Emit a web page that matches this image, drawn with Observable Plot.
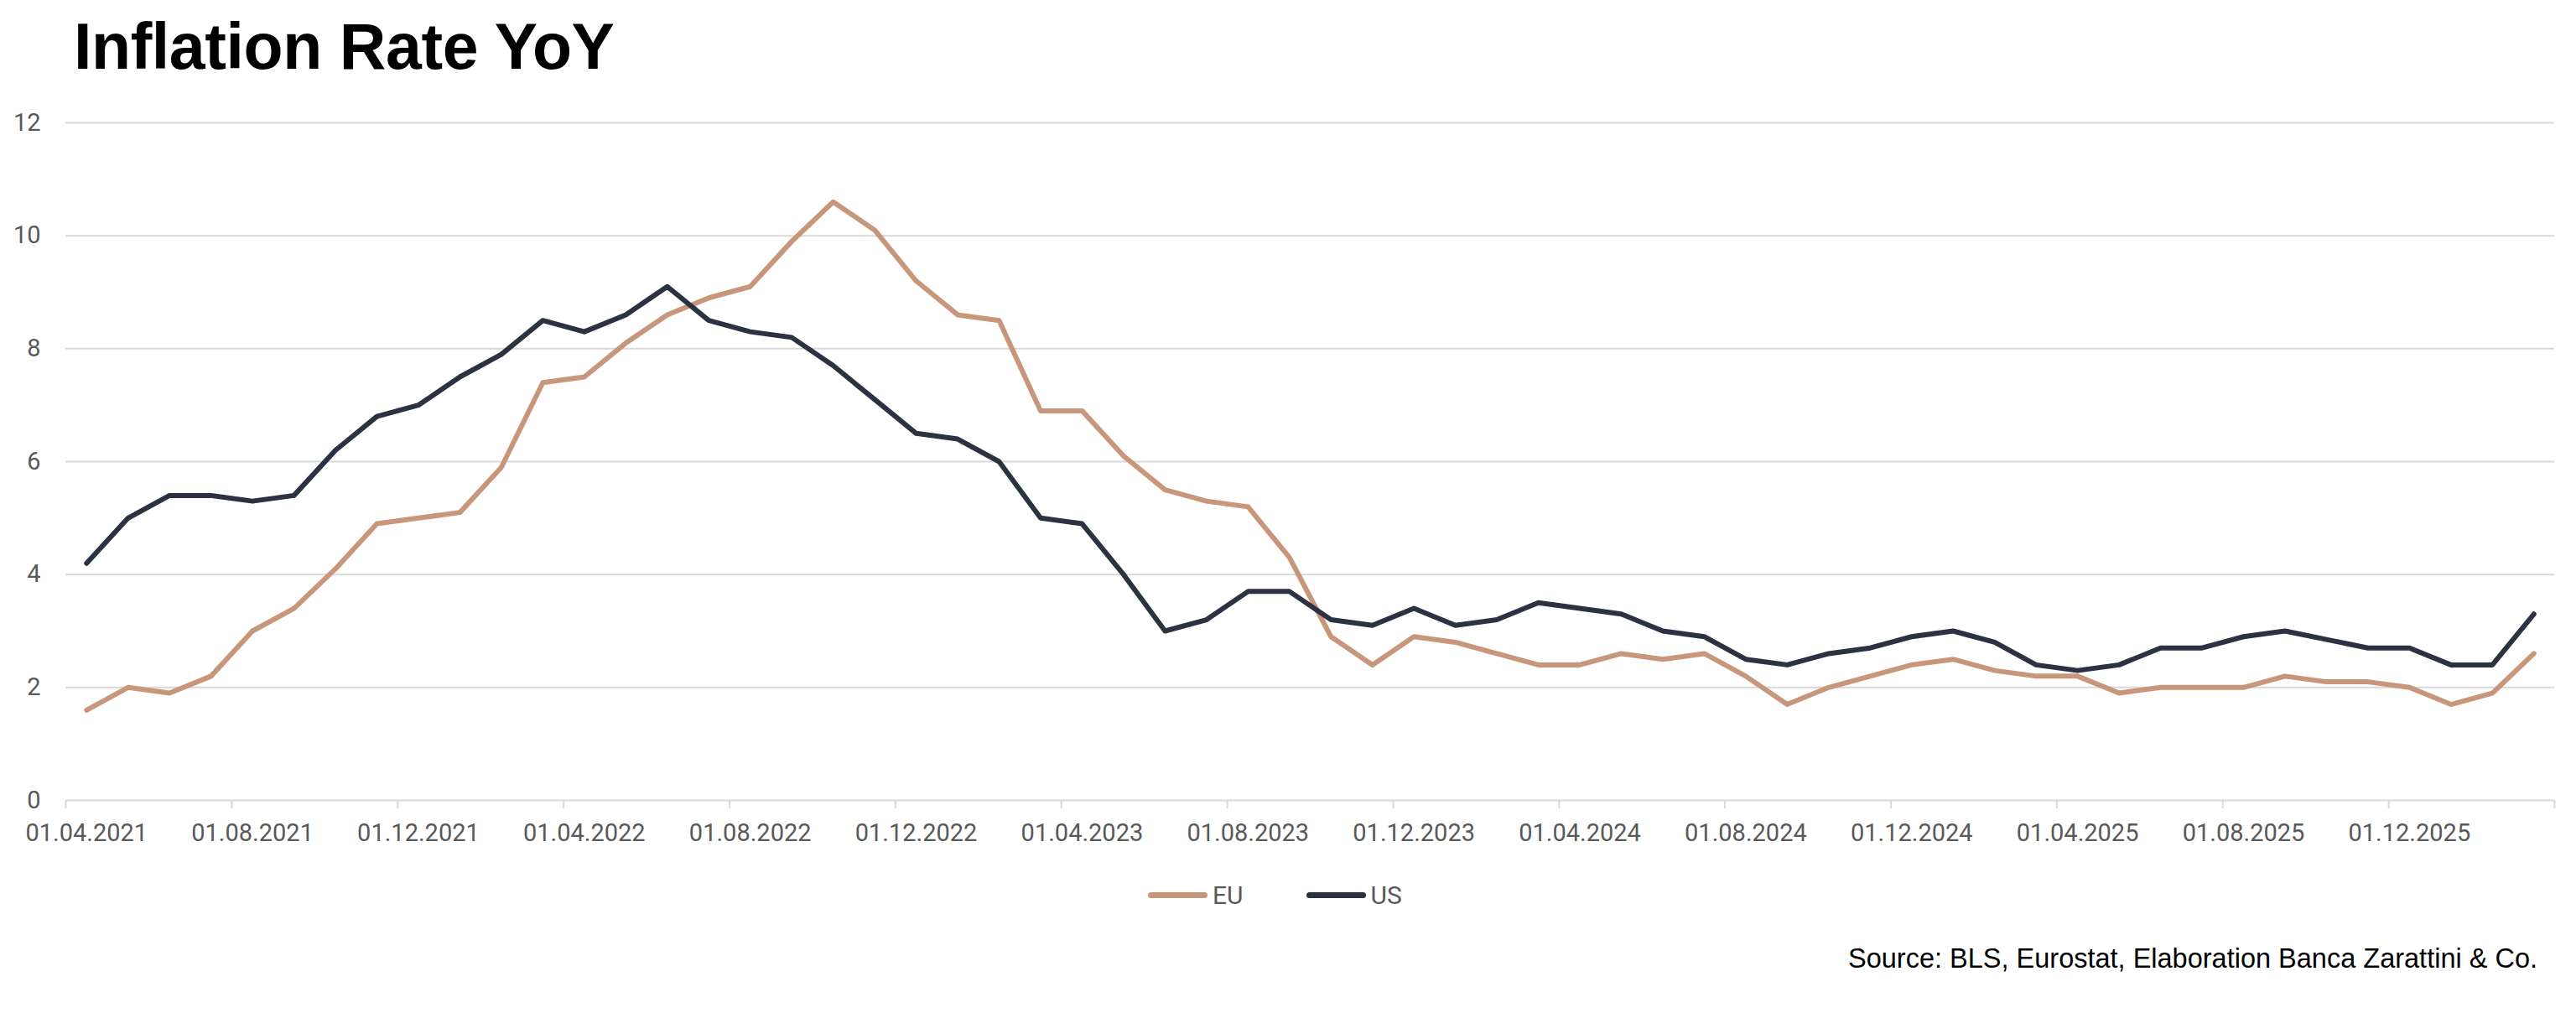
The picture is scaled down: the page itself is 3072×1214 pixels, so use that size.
<!DOCTYPE html>
<html>
<head>
<meta charset="utf-8">
<script src="https://cdn.jsdelivr.net/npm/d3@7"></script>
<script src="https://cdn.jsdelivr.net/npm/@observablehq/plot@0.6"></script>
<style>
  html, body { margin: 0; padding: 0; background: #fff; }
  #page { position: relative; width: 3072px; height: 1214px; overflow: hidden; }
  #title { position: absolute; left: 88px; top: 0; margin: 0; font-family: "Liberation Sans", Arial, sans-serif; font-weight: 700; font-size: 77px; line-height: 1; letter-spacing: -0.4px; color: #000; padding-top: 17px; }
  #chart { position: absolute; left: 0; top: 110px; }
  #legend { position: absolute; left: 1369px; top: 1050px; display: flex; align-items: center; font-family: Roboto, sans-serif; font-size: 30px; color: #595959; }
  .item { display: flex; align-items: center; margin-right: 75px; }
  .sw { width: 71px; height: 7px; border-radius: 4px; margin-right: 6px; }
  #source { position: absolute; right: 46px; top: 1125px; font-family: "Liberation Sans", Arial, sans-serif; font-size: 32.5px; color: #000; }
</style>
</head>
<body>
<div id="page">
  <h1 id="title">Inflation Rate YoY</h1>
  <div id="chart"></div>
  <div id="legend"></div>
  <div id="source">Source: BLS, Eurostat, Elaboration Banca Zarattini &amp; Co.</div>
</div>
<script>
const months = [
  "2021-04","2021-05","2021-06","2021-07","2021-08","2021-09","2021-10","2021-11","2021-12",
  "2022-01","2022-02","2022-03","2022-04","2022-05","2022-06","2022-07","2022-08","2022-09","2022-10","2022-11","2022-12",
  "2023-01","2023-02","2023-03","2023-04","2023-05","2023-06","2023-07","2023-08","2023-09","2023-10","2023-11","2023-12",
  "2024-01","2024-02","2024-03","2024-04","2024-05","2024-06","2024-07","2024-08","2024-09","2024-10","2024-11","2024-12",
  "2025-01","2025-02","2025-03","2025-04","2025-05","2025-06","2025-07","2025-08","2025-09","2025-10","2025-11","2025-12",
  "2026-01","2026-02","2026-03"
];
const eu = [
  1.6, 2.0, 1.9, 2.2, 3.0, 3.4, 4.1, 4.9, 5.0,
  5.1, 5.9, 7.4, 7.5, 8.1, 8.6, 8.9, 9.1, 9.9, 10.6, 10.1, 9.2,
  8.6, 8.5, 6.9, 6.9, 6.1, 5.5, 5.3, 5.2, 4.3, 2.9, 2.4, 2.9,
  2.8, 2.6, 2.4, 2.4, 2.6, 2.5, 2.6, 2.2, 1.7, 2.0, 2.2, 2.4,
  2.5, 2.3, 2.2, 2.2, 1.9, 2.0, 2.0, 2.0, 2.2, 2.1, 2.1, 2.0,
  1.7, 1.9, 2.6
];
const us = [
  4.2, 5.0, 5.4, 5.4, 5.3, 5.4, 6.2, 6.8, 7.0,
  7.5, 7.9, 8.5, 8.3, 8.6, 9.1, 8.5, 8.3, 8.2, 7.7, 7.1, 6.5,
  6.4, 6.0, 5.0, 4.9, 4.0, 3.0, 3.2, 3.7, 3.7, 3.2, 3.1, 3.4,
  3.1, 3.2, 3.5, 3.4, 3.3, 3.0, 2.9, 2.5, 2.4, 2.6, 2.7, 2.9,
  3.0, 2.8, 2.4, 2.3, 2.4, 2.7, 2.7, 2.9, 3.0, 2.85, 2.7, 2.7,
  2.4, 2.4, 3.3
];
const tickLabels = [
  "01.04.2021","01.08.2021","01.12.2021","01.04.2022","01.08.2022","01.12.2022",
  "01.04.2023","01.08.2023","01.12.2023","01.04.2024","01.08.2024","01.12.2024",
  "01.04.2025","01.08.2025","01.12.2025"
];
const yTicks = [0, 2, 4, 6, 8, 10, 12];
const seriesNames = ["EU", "US"];
const seriesColors = ["#C8977B", "#2B3241"];

const rows = [];
months.forEach((m, i) => {
  rows.push({i, month: m, series: "EU", value: eu[i]});
  rows.push({i, month: m, series: "US", value: us[i]});
});
const tickIdx = tickLabels.map(t => months.indexOf(t.slice(6) + "-" + t.slice(3, 5)));
const boundaries = tickIdx.map(i => i - 0.5).concat([months.length - 0.5]);

const chart = Plot.plot({
  width: 3072,
  height: 914,
  marginLeft: 78,
  marginRight: 26,
  marginTop: 36,
  marginBottom: 70,
  style: {fontFamily: "Roboto, sans-serif", fontSize: "29px", color: "#595959", background: "transparent"},
  x: {domain: [-0.5, months.length - 0.5]},
  y: {domain: [0, 12]},
  color: {domain: seriesNames, range: seriesColors},
  marks: [
    Plot.gridY(yTicks.slice(1), {stroke: "#D9D9D9", strokeOpacity: 1, strokeWidth: 2}),
    Plot.ruleY([0], {stroke: "#D9D9D9", strokeWidth: 2}),
    Plot.axisY(yTicks, {tickSize: 0, tickPadding: 30, tickFormat: d => String(d), label: null, fill: "#595959", fontSize: 29}),
    Plot.axisX(boundaries, {tickSize: 10, tickFormat: () => "", stroke: "#D9D9D9", strokeWidth: 2, label: null}),
    Plot.axisX(tickIdx, {tickSize: 0, tickPadding: 28, tickFormat: i => tickLabels[tickIdx.indexOf(i)], label: null, fill: "#595959", fontSize: 29}),
    Plot.line(rows, {x: "i", y: "value", z: "series", stroke: "series", strokeWidth: 6, strokeLinejoin: "round", strokeLinecap: "round"})
  ]
});
document.getElementById("chart").appendChild(chart);

const legend = document.getElementById("legend");
seriesNames.forEach((name, k) => {
  const item = document.createElement("div");
  item.className = "item";
  const sw = document.createElement("div");
  sw.className = "sw";
  sw.style.background = seriesColors[k];
  const lab = document.createElement("span");
  lab.textContent = name;
  item.appendChild(sw);
  item.appendChild(lab);
  legend.appendChild(item);
});
</script>
</body>
</html>
